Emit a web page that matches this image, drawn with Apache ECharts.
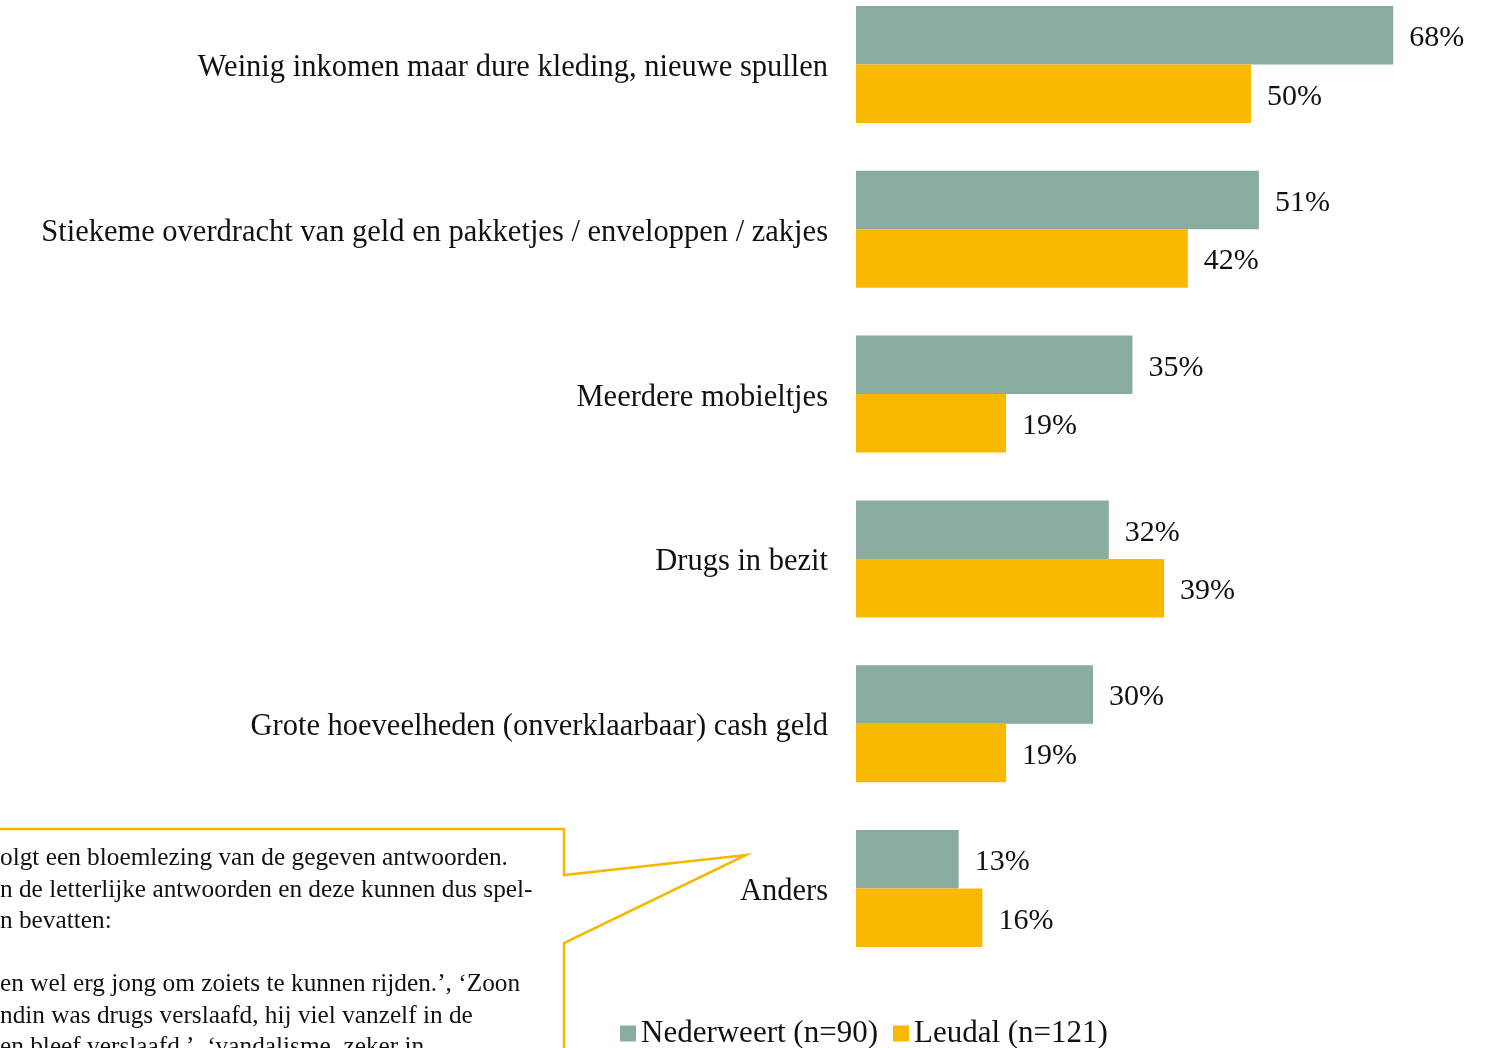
<!DOCTYPE html>
<html>
<head>
<meta charset="utf-8">
<title>Signalen</title>
<script src="https://cdn.jsdelivr.net/npm/echarts@6/dist/echarts.min.js"></script>
<style>
  html, body { margin: 0; padding: 0; background: #fff; }
  #main { width: 1488px; height: 1048px; }
</style>
</head>
<body>
<div id="main"></div>
<script>
// categorieen, van boven naar beneden
var categories = [
  'Weinig inkomen maar dure kleding, nieuwe spullen',
  'Stiekeme overdracht van geld en pakketjes / enveloppen / zakjes',
  'Meerdere mobieltjes',
  'Drugs in bezit',
  'Grote hoeveelheden (onverklaarbaar) cash geld',
  'Anders'
];
var seriesNames = ['Nederweert (n=90)', 'Leudal (n=121)'];
var nederweert = [68, 51, 35, 32, 30, 13];
var leudal = [50, 42, 19, 39, 19, 16];

// tekst in het kader (links afgesneden in het origineel)
var calloutLines = [
  'olgt een bloemlezing van de gegeven antwoorden.',
  'n de letterlijke antwoorden en deze kunnen dus spel-',
  'n bevatten:',
  '',
  'en wel erg jong om zoiets te kunnen rijden.\u2019, \u2018Zoon',
  'ndin was drugs verslaafd, hij viel vanzelf in de',
  'en bleef verslaafd.\u2019, \u2018vandalisme, zeker in'
];

var FONT = '"Liberation Serif", "DejaVu Serif", serif';
var GREEN = '#8aab9f';
var YELLOW = '#f9b900';

var myChart = echarts.init(document.getElementById('main'));

var textEls = [];
calloutLines.forEach(function (line, i) {
  if (!line) return;
  textEls.push({
    type: 'text',
    left: 0,
    top: 846 + i * 31.5,
    z: 10,
    style: {
      text: line,
      font: '25.3px ' + FONT,
      fill: '#111'
    }
  });
});

var options = {
  animation: false,
  textStyle: { fontFamily: FONT },
  grid: {
    left: 856,
    top: -18,
    width: 632,
    height: 989,
    containLabel: false,
    outerBoundsMode: 'none'
  },
  legend: {
    data: seriesNames,
    left: 615,
    top: 1013,
    itemWidth: 16,
    itemHeight: 16,
    itemGap: 15,
    icon: 'rect',
    textStyle: { fontSize: 31, color: '#111', fontFamily: FONT }
  },
  xAxis: {
    type: 'value',
    min: 0,
    max: 80,
    show: false
  },
  yAxis: {
    type: 'category',
    data: categories,
    inverse: true,
    axisLine: { show: false },
    axisTick: { show: false },
    axisLabel: {
      margin: 28,
      fontSize: 30.5,
      color: '#111',
      fontFamily: FONT,
      verticalAlign: 'top',
      lineHeight: 7
    }
  },
  graphic: [
    {
      type: 'polyline',
      z: 10,
      shape: {
        points: [[-4, 829], [564, 829], [564, 875], [746, 855], [564, 943], [564, 1052]]
      },
      style: { stroke: '#f5b700', lineWidth: 2.5, fill: null }
    }
  ].concat(textEls),
  series: [
    {
      name: seriesNames[0],
      type: 'bar',
      data: nederweert,
      barGap: '0%',
      barCategoryGap: '29%',
      itemStyle: { color: GREEN },
      label: {
        show: true,
        position: 'right',
        distance: 16,
        offset: [0, 3],
        formatter: '{c}%',
        fontSize: 30,
        color: '#111',
        fontFamily: FONT
      }
    },
    {
      name: seriesNames[1],
      type: 'bar',
      data: leudal,
      barGap: '0%',
      barCategoryGap: '29%',
      itemStyle: { color: YELLOW },
      label: {
        show: true,
        position: 'right',
        distance: 16,
        offset: [0, 3],
        formatter: '{c}%',
        fontSize: 30,
        color: '#111',
        fontFamily: FONT
      }
    }
  ]
};
myChart.setOption(options);
window.onresize = myChart.resize;
</script>
</body>
</html>
